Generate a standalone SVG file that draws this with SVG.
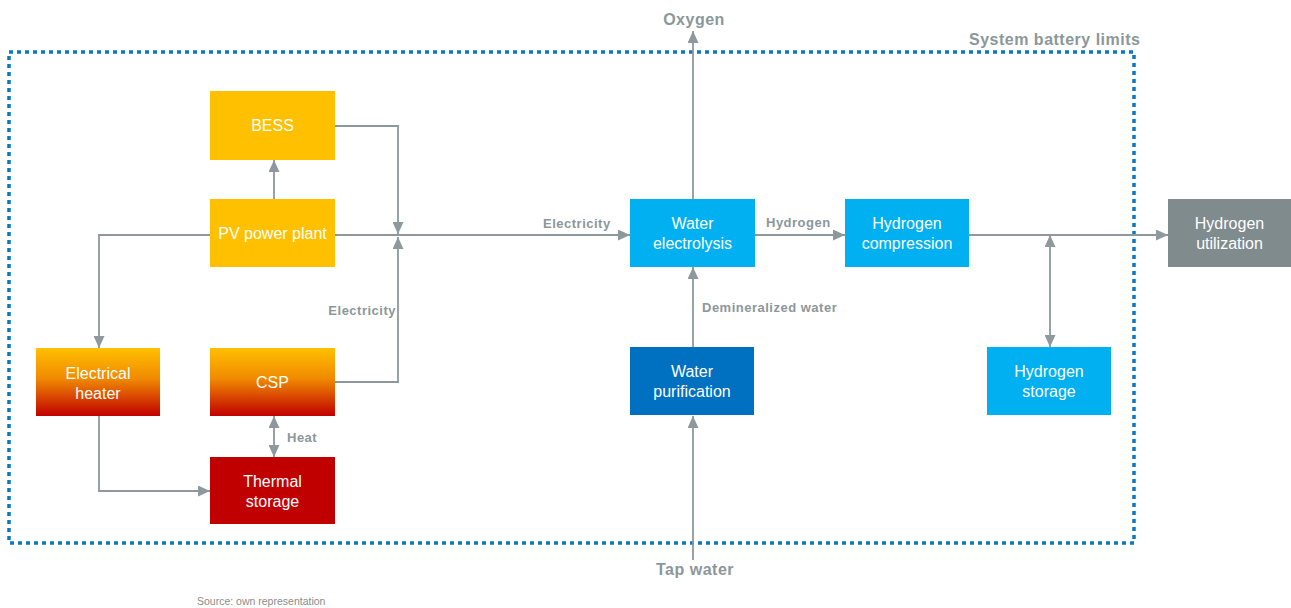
<svg xmlns="http://www.w3.org/2000/svg" width="1291" height="608" viewBox="0 0 1291 608">
  <style>
    .box text, text.nt { font-family: "Liberation Sans", Arial, sans-serif; font-size: 16px; fill: #ffffff; text-anchor: middle; }
    .lbl { font-family: "Liberation Sans", Arial, sans-serif; font-weight: bold; font-size: 13px; fill: #8c979b; letter-spacing: 0.5px; }
    .big { font-family: "Liberation Sans", Arial, sans-serif; font-weight: bold; font-size: 16px; fill: #8c979b; letter-spacing: 0.5px; }
    .src { font-family: "Liberation Sans", Arial, sans-serif; font-size: 10.5px; fill: #8c8c8c; }
    .conn path { fill: none; stroke: #8d999c; stroke-width: 1.8; }
    .yellow { fill: #ffc000; }
    .grad { fill: url(#heat); }
    .red { fill: #c00000; }
    .cyan { fill: #00b0f0; }
    .blue { fill: #0070c0; }
    .gray { fill: #7f8b8d; }
  </style>
  <defs>
    <linearGradient id="heat" x1="0" y1="0" x2="0" y2="1">
      <stop offset="0" stop-color="#ffc000"/>
      <stop offset="0.45" stop-color="#f08a00"/>
      <stop offset="1" stop-color="#c00000"/>
    </linearGradient>
    <marker id="ah" viewBox="0 0 12 11" refX="12" refY="5.5" markerWidth="12" markerHeight="11" markerUnits="userSpaceOnUse" orient="auto-start-reverse">
      <path d="M0,0 L12,5.5 L0,11 Z" fill="#8d999c"/>
    </marker>
  </defs>

  <rect x="0" y="0" width="1291" height="608" fill="#ffffff"/>

  <!-- system battery limits -->
  <g id="battery-limits">
    <rect x="9" y="52" width="1125" height="491" fill="none" stroke="#0a78c2" stroke-width="3.5" stroke-dasharray="4 4"/>
    <text class="big" x="969" y="45">System battery limits</text>
  </g>

  <!-- connectors -->
  <g id="connectors" class="conn">
    <path d="M274,199 V160" marker-end="url(#ah)"/>
    <path d="M335,126 H398 V234" marker-end="url(#ah)"/>
    <path d="M335,382 H398 V237" marker-end="url(#ah)"/>
    <path d="M335,235 H630" marker-end="url(#ah)"/>
    <path d="M210,235 H99 V348" marker-end="url(#ah)"/>
    <path d="M99,416 V491 H210" marker-end="url(#ah)"/>
    <path d="M274,416 V457" marker-start="url(#ah)" marker-end="url(#ah)"/>
    <path d="M693,199 V31" marker-end="url(#ah)"/>
    <path d="M755,235 H845" marker-end="url(#ah)"/>
    <path d="M969,235 H1168" marker-end="url(#ah)"/>
    <path d="M1050,235 V347" marker-start="url(#ah)" marker-end="url(#ah)"/>
    <path d="M693,347 V267" marker-end="url(#ah)"/>
    <path d="M693,560 V416" marker-end="url(#ah)"/>
  </g>

  <!-- connector labels -->
  <g id="labels">
    <text class="big" x="694" y="25" text-anchor="middle">Oxygen</text>
    <text class="big" x="695" y="575" text-anchor="middle">Tap water</text>
    <text class="lbl" x="543" y="228">Electricity</text>
    <text class="lbl" x="766" y="227">Hydrogen</text>
    <text class="lbl" x="396" y="315" text-anchor="end">Electricity</text>
    <text class="lbl" x="287" y="442">Heat</text>
    <text class="lbl" x="702" y="312">Demineralized water</text>
    <text class="src" x="197" y="605">Source: own representation</text>
  </g>

  <!-- nodes -->
  <g id="bess" class="box">
    <rect class="yellow" x="210" y="91" width="125" height="69"/>
    <text x="272.5" y="131">BESS</text>
  </g>
  <g id="pv" class="box">
    <rect class="yellow" x="210" y="199" width="125" height="68"/>
    <text x="272.5" y="239">PV power plant</text>
  </g>
  <g id="electrical-heater" class="box">
    <rect class="grad" x="36" y="348" width="124" height="68"/>
    <text x="98" y="379">Electrical</text>
    <text x="98" y="399">heater</text>
  </g>
  <g id="csp" class="box">
    <rect class="grad" x="210" y="348" width="125" height="68"/>
    <text x="272.5" y="388">CSP</text>
  </g>
  <g id="thermal-storage" class="box">
    <rect class="red" x="210" y="457" width="125" height="67"/>
    <text x="272.5" y="487">Thermal</text>
    <text x="272.5" y="507">storage</text>
  </g>
  <g id="water-electrolysis" class="box">
    <rect class="cyan" x="630" y="199" width="125" height="68"/>
    <text x="692.5" y="229">Water</text>
    <text x="692.5" y="249">electrolysis</text>
  </g>
  <g id="hydrogen-compression" class="box">
    <rect class="cyan" x="845" y="199" width="124" height="68"/>
    <text x="907" y="229">Hydrogen</text>
    <text x="907" y="249">compression</text>
  </g>
  <g id="hydrogen-utilization" class="box">
    <rect class="gray" x="1168" y="199" width="123" height="68"/>
    <text x="1229.5" y="229">Hydrogen</text>
    <text x="1229.5" y="249">utilization</text>
  </g>
  <g id="water-purification" class="box">
    <rect class="blue" x="630" y="347" width="124" height="68"/>
    <text x="692" y="377">Water</text>
    <text x="692" y="397">purification</text>
  </g>
  <g id="hydrogen-storage" class="box">
    <rect class="cyan" x="987" y="347" width="124" height="68"/>
    <text x="1049" y="377">Hydrogen</text>
    <text x="1049" y="397">storage</text>
  </g>
</svg>
